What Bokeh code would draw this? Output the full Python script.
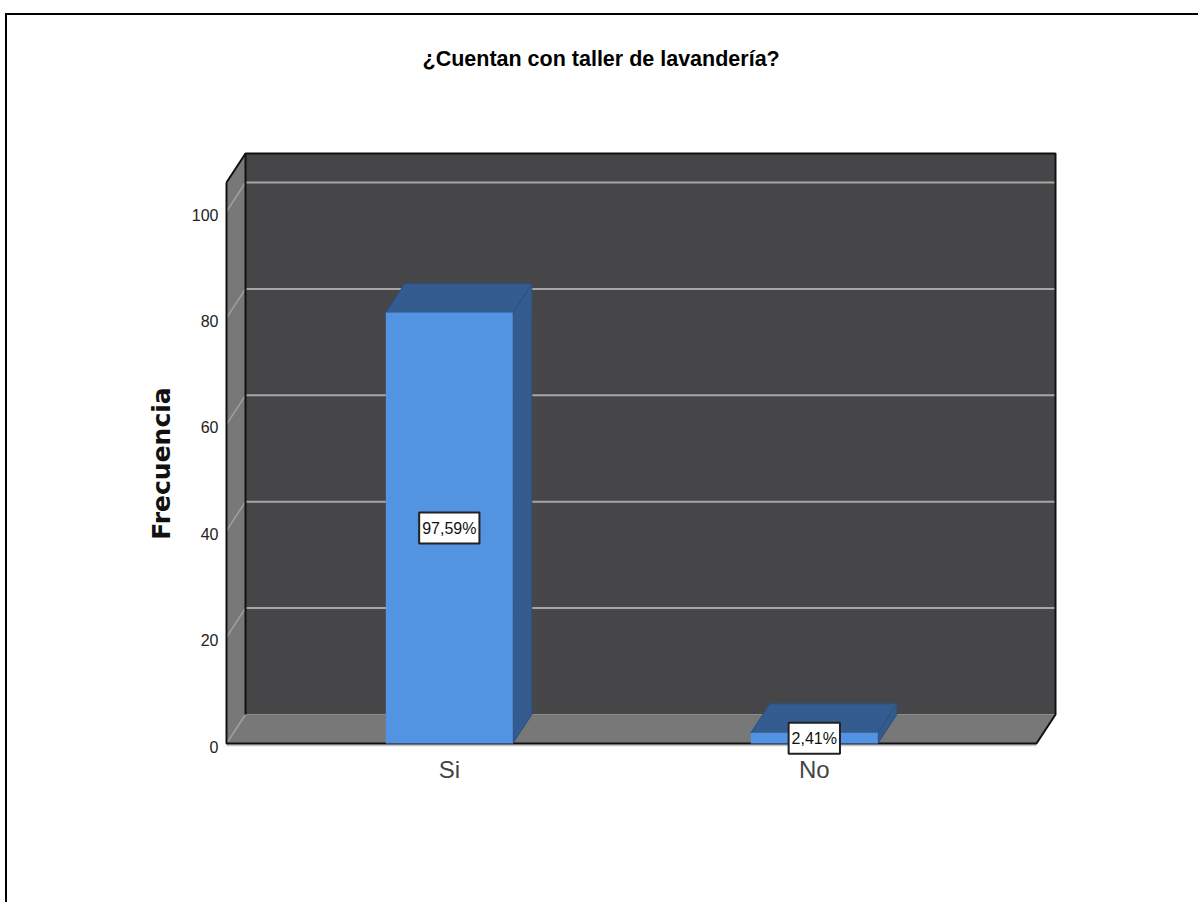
from bokeh.plotting import figure
from bokeh.embed import file_html
from bokeh.resources import INLINE
from bokeh.models import Range1d, FixedTicker, LinearAxis, Label, Title

title_text = "¿Cuentan con taller de lavandería?"
y_label = "Frecuencia"
categories = ["Si", "No"]
counts = [81, 2]
percent_labels = ["97,59%", "2,41%"]
y_ticks = [0, 20, 40, 60, 80, 100]

FONT = "Liberation Sans"
X0, XU = 448.8, 365.0     # px of first category, px per category
Y0, YU = 743.0, 5.32      # px of value 0, px per unit
DX, DY = 19 / XU, 29 / YU  # 3-D depth in data units
BAR_W = 127 / XU
AX_L, AX_R, AX_T = (226 - X0) / XU, (1036 - X0) / XU, (Y0 - 182) / YU
Y_START, Y_END = (Y0 - 776) / YU, (Y0 - 150) / YU
LABEL_SHIFT = 3 / YU

p = figure(width=1193, height=889, output_backend="svg", toolbar_location=None,
           x_range=Range1d((224 - X0) / XU, (1060 - X0) / XU),
           y_range=Range1d(Y_START, Y_END), y_axis_location=None,
           min_border_left=217, min_border_right=140, min_border_top=135, min_border_bottom=128,
           outline_line_color=None, background_fill_color="white", border_fill_color="white")
p.margin = (13, 0, 0, 5)
p.styles = {"border-top": "2px solid #000", "border-left": "2px solid #000"}
p.grid.visible = False
p.extra_y_ranges = {"labels": Range1d(Y_START + LABEL_SHIFT, Y_END + LABEL_SHIFT)}

# walls
p.patch([AX_L + DX, AX_R + DX, AX_R + DX, AX_L + DX], [DY, DY, AX_T + DY, AX_T + DY],
        fill_color="#464648", line_color=None)
p.patch([AX_L, AX_L + DX, AX_L + DX, AX_L], [0, DY, AX_T + DY, AX_T],
        fill_color="#787878", line_color=None)
p.patch([AX_L, AX_L + DX, AX_R + DX, AX_R], [0, DY, DY, 0],
        fill_color="#787878", line_color=None)

# gridlines
grid_back = [v for v in y_ticks if v > 0]
p.segment([AX_L + DX] * len(grid_back), [v + DY for v in grid_back],
          [AX_R + DX] * len(grid_back), [v + DY for v in grid_back],
          line_color="#a6a6a6", line_width=2)
p.segment([AX_L] * len(y_ticks), y_ticks, [AX_L + DX] * len(y_ticks), [v + DY for v in y_ticks],
          line_color="#a0a0a0", line_width=1.5)

# frame edges
BL = "#111111"
p.line([AX_L, AX_R], [-0.35, -0.35], line_color="#c8c8c8", line_width=2)
p.line([AX_L, AX_L + DX, AX_R + DX, AX_R + DX, AX_R, AX_L, AX_L],
       [AX_T, AX_T + DY, AX_T + DY, DY, 0, 0, AX_T], line_color=BL, line_width=2)
p.line([AX_L + DX, AX_L + DX], [AX_T + DY, DY], line_color=BL, line_width=2)

# bars
for i, c in enumerate(counts):
    l, r = i - BAR_W / 2, i + BAR_W / 2
    p.patch([r, r + DX, r + DX, r], [0, DY, c + DY, c], fill_color="#335b90",
            line_color="#2d5080", line_width=1)
    p.patch([l, l + DX, r + DX, r], [c, c + DY, c + DY, c], fill_color="#345c90",
            line_color="#2d5080", line_width=1)
    p.quad(left=[l], right=[r], bottom=[0], top=[c], fill_color="#5294e2", line_color=None)

# axes
yaxis = LinearAxis(y_range_name="labels", ticker=FixedTicker(ticks=y_ticks),
                   axis_line_color=None, major_tick_line_color=None, minor_tick_line_color=None,
                   major_label_standoff=0, major_label_text_font=FONT,
                   major_label_text_font_size="16px", major_label_text_color="#222222",
                   axis_label=y_label, axis_label_standoff=13, axis_label_text_font="DejaVu Sans",
                   axis_label_text_font_style="bold", axis_label_text_font_size="25px",
                   axis_label_text_color="#111111")
p.add_layout(yaxis, "left")
p.xaxis.ticker = FixedTicker(ticks=[0, 1])
p.xaxis.major_label_overrides = {i: c for i, c in enumerate(categories)}
p.xaxis.axis_line_color = None
p.xaxis.major_tick_line_color = None
p.xaxis.minor_tick_line_color = None
p.xaxis.major_label_standoff = -27
p.xaxis.major_label_text_font = FONT
p.xaxis.major_label_text_font_size = "24px"
p.xaxis.major_label_text_color = "#444444"

# title, lifted by a blank spacer title between it and the plot
p.add_layout(Title(text=" ", text_font_size="56.5px"), "above")
p.title.text = title_text
p.title.align = "left"
p.title.offset = 198
p.title.text_font = FONT
p.title.text_font_size = "21.5px"
p.title.text_font_style = "bold"
p.title.text_color = "#000000"

# value labels
for i, (c, t) in enumerate(zip(counts, percent_labels)):
    p.add_layout(Label(x=i, y=c / 2, text=t, text_align="center", text_baseline="middle",
                       text_font=FONT, text_font_size="16px", text_color="#111111",
                       background_fill_color="white", border_line_color="#222222", border_line_width=2,
                       padding=(3, 7), level="overlay"))

open("out.html", "w").write(file_html(p, INLINE))
